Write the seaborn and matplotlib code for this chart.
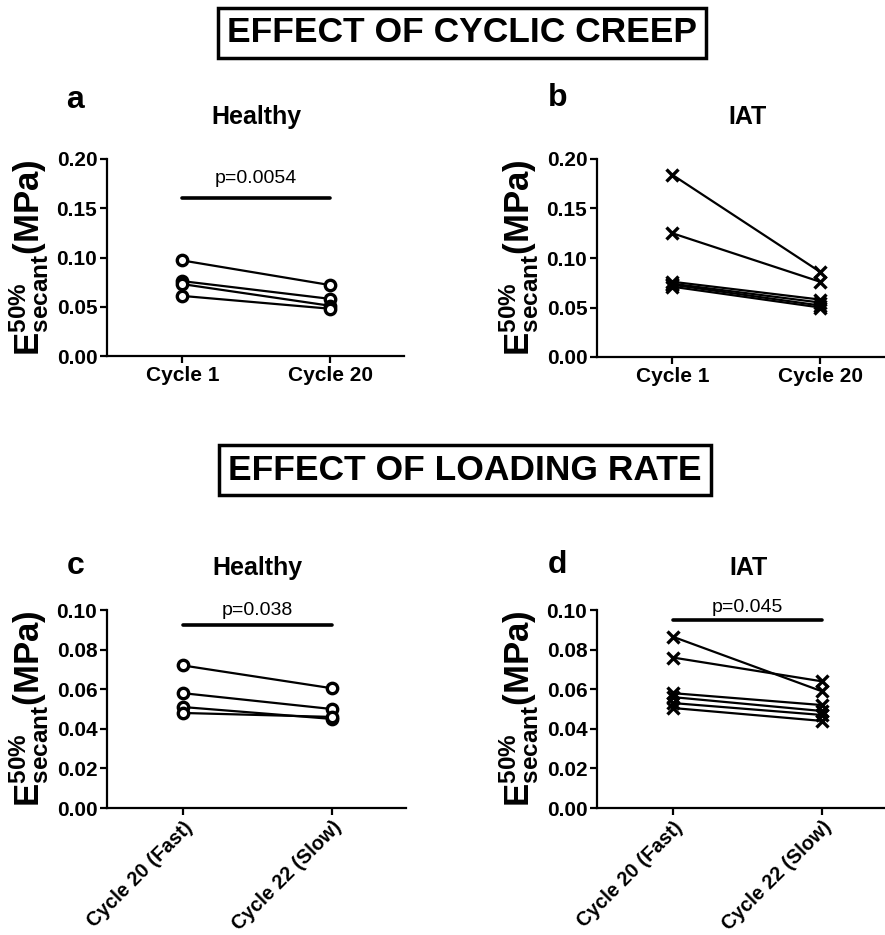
import pandas as pd
import numpy as np
import matplotlib
matplotlib.use('Agg')
import matplotlib.pyplot as plt
import seaborn as sns

sns.set_theme(style='ticks')
plt.rcParams['font.family'] = ['Liberation Sans', 'DejaVu Sans']
plt.rcParams['mathtext.fontset'] = 'custom'
plt.rcParams['mathtext.rm'] = 'Liberation Sans'
plt.rcParams['mathtext.bf'] = 'Liberation Sans:bold'
plt.rcParams['mathtext.it'] = 'Liberation Sans:italic'
plt.rcParams.update({'text.color': 'black', 'axes.labelcolor': 'black',
                     'xtick.color': 'black', 'ytick.color': 'black'})

# --- data ---
creep_cycles = ['Cycle 1', 'Cycle 20']
rate_cycles = ['Cycle 20 (Fast)', 'Cycle 22 (Slow)']

healthy_c1 = [0.097, 0.076, 0.073, 0.061]
healthy_c20 = [0.072, 0.058, 0.051, 0.048]

iat_c1 = [0.184, 0.125, 0.076, 0.074, 0.073, 0.071]
iat_c20 = [0.086, 0.076, 0.058, 0.055, 0.052, 0.050]

healthy_fast = [0.072, 0.058, 0.051, 0.048]
healthy_slow = [0.0605, 0.050, 0.045, 0.046]

iat_fast = [0.0865, 0.076, 0.058, 0.056, 0.053, 0.0505]
iat_slow = [0.059, 0.064, 0.052, 0.049, 0.047, 0.044]

p_texts = ['p=0.0054', None, 'p=0.038', 'p=0.045']
p_bar_y = [0.160, None, 0.0925, 0.095]
p_txt_y = [0.180, None, 0.0995, 0.1015]


def long_df(before, after, cats):
    rows = []
    for i, (b, a) in enumerate(zip(before, after)):
        rows.append({'subject': i, 'cycle': cats[0], 'value': b})
        rows.append({'subject': i, 'cycle': cats[1], 'value': a})
    return pd.DataFrame(rows)


panels = [
    ('a', 'Healthy', long_df(healthy_c1, healthy_c20, creep_cycles), 'o', 0.20, 0.05),
    ('b', 'IAT', long_df(iat_c1, iat_c20, creep_cycles), 'x', 0.20, 0.05),
    ('c', 'Healthy', long_df(healthy_fast, healthy_slow, rate_cycles), 'o', 0.10, 0.02),
    ('d', 'IAT', long_df(iat_fast, iat_slow, rate_cycles), 'x', 0.10, 0.02),
]

W, H = 885, 935
fig = plt.figure(figsize=(W / 100, H / 100), dpi=100)

# axes rectangles in pixels: left, top, right, bottom
rects = [(107, 159, 404, 356), (597, 159, 894, 357), (107, 610, 406, 808), (597, 610, 896, 808)]
letter_xy = [(-0.108, 1.30), (-0.131, 1.31), (-0.104, 1.22), (-0.131, 1.225)]
title_xy = [(0.502, 1.213), (0.507, 1.213), (0.502, 1.212), (0.507, 1.212)]

ylabel = r'$\mathbf{E}_{\mathbf{secant}}^{\mathbf{50\%}}\mathbf{(MPa)}$'

for k, ((letter, title, df, mk, ymax, ystep), (l, t, r, b)) in enumerate(zip(panels, rects)):
    ax = fig.add_axes([l / W, 1 - b / H, (r - l) / W, (b - t) / H])
    kw = dict(marker=mk, markersize=8.5, markeredgewidth=2.4, markeredgecolor='black')
    if mk == 'o':
        kw['markerfacecolor'] = 'white'
        kw['markersize'] = 7.5
    sns.lineplot(data=df, x='cycle', y='value', units='subject', estimator=None,
                 color='black', linewidth=1.6, ax=ax, legend=False, **kw)
    ax.set_xlim(-0.51, 1.5)
    ax.set_ylim(0, ymax)
    ax.set_yticks(np.arange(0, ymax + ystep / 2, ystep))
    ax.yaxis.set_major_formatter(matplotlib.ticker.FormatStrFormatter('%.2f'))
    sns.despine(ax=ax)
    for s in ['left', 'bottom']:
        ax.spines[s].set_linewidth(1.6)
        ax.spines[s].set_color('black')
    ax.tick_params(axis='both', width=1.6, length=5, color='black', labelsize=15, pad=2)
    for lab in ax.get_yticklabels() + ax.get_xticklabels():
        lab.set_fontweight('bold')
    if k >= 2:
        plt.setp(ax.get_xticklabels(), rotation=45, ha='right', rotation_mode='anchor', fontsize=14.3)
    else:
        plt.setp(ax.get_xticklabels(), fontsize=15)
    ax.set_xlabel('')
    ax.set_ylabel(ylabel, fontsize=25, labelpad=4)
    ax.text(*title_xy[k], title, transform=ax.transAxes, fontsize=18, fontweight='bold',
            ha='center', va='center')
    ax.text(*letter_xy[k], letter, transform=ax.transAxes,
            fontsize=23, fontweight='bold', ha='center', va='center')
    if p_texts[k]:
        ax.plot([0, 1], [p_bar_y[k], p_bar_y[k]], color='black', linewidth=2.6, clip_on=False)
        ax.text(0.5, p_txt_y[k], p_texts[k], ha='center', va='center', fontsize=14, clip_on=False)

box = dict(boxstyle='square,pad=0.25', facecolor='white', edgecolor='black', linewidth=2.5)
fig.text(462 / W, 1 - 33 / H, 'EFFECT OF CYCLIC CREEP', ha='center', va='center',
         fontsize=25.5, fontweight='bold', bbox=box)
fig.text(465 / W, 1 - 470 / H, 'EFFECT OF LOADING RATE', ha='center', va='center',
         fontsize=25.5, fontweight='bold', bbox=box)

fig.savefig('out.png', dpi=100)
